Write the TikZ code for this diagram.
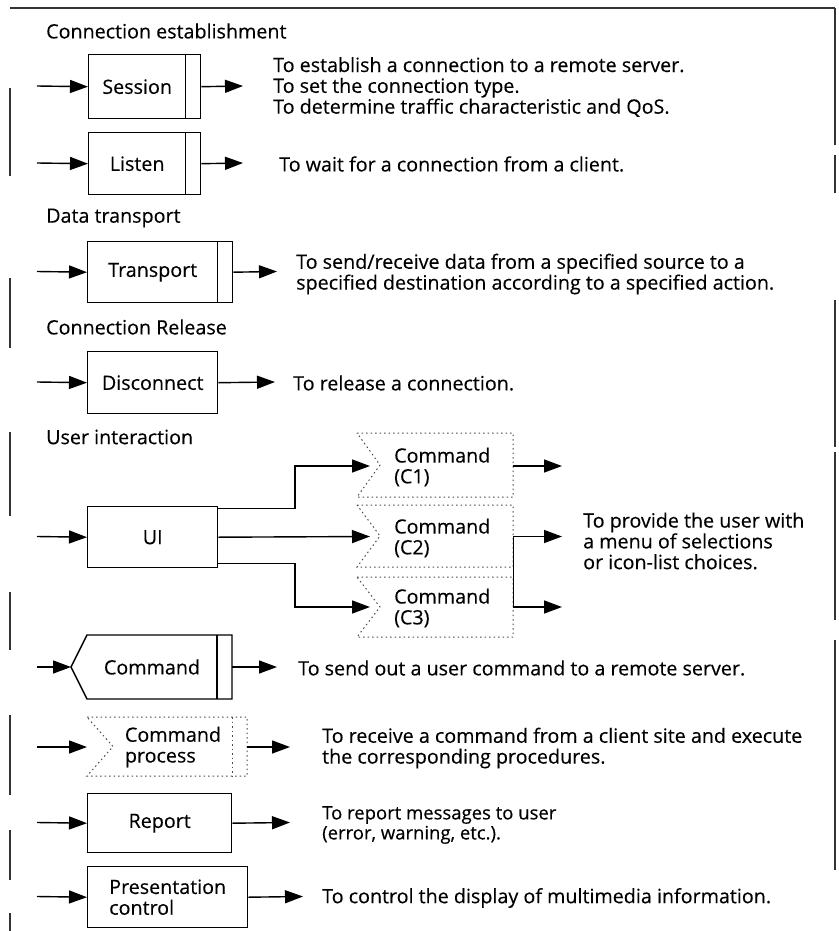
\documentclass[tikz,border=0pt]{standalone}
\usepackage{fontspec}
\setmainfont{Open Sans}[FakeBold=0.3]
\usetikzlibrary{arrows.meta}
\begin{document}
\begin{tikzpicture}[x=1pt,y=-1pt,
  txt/.style={font=\fontsize{19.7}{20.8}\selectfont, inner sep=0pt},
  desc/.style={txt, anchor=west, align=left},
  hdr/.style={txt, anchor=west},
  boxn/.style={draw, line width=1.4pt, inner sep=0pt, anchor=north west, txt},
  arr/.style={line width=1.4pt, -{Triangle[length=18pt,width=13pt]}},
  dotb/.style={line width=1pt, black!70, dash pattern=on 1.5pt off 3pt},
  frame/.style={line width=1.1pt, black!80}
]
\useasboundingbox (0,0) rectangle (838,931);

% frame fragments
\draw[frame] (10,8) -- (835,8);
\foreach \a/\b in {88/176, 278/348, 432/516, 592/650, 715/795, 830/880, 913/931}
  \draw[frame] (10,\a) -- (10,\b);
\foreach \a/\b in {8/145, 155/193, 300/447, 452/620, 640/870}
  \draw[frame] (835,\a) -- (835,\b);

% headers
\node[hdr] (h1) at (46,31) {Connection establishment};
\node[hdr] (h2) at (46,218) {Data transport};
\node[hdr] (h3) at (46,327) {Connection Release};
\node[hdr] (h4) at (46,437) {User interaction};

% Session
\node[boxn, minimum width=97pt, minimum height=64pt] (session) at (88,54) {Session};
\node[boxn, minimum width=15pt, minimum height=64pt] (sessionS) at (185,54) {};
\coordinate (sessionIn) at (37,86);
\coordinate (sessionOut) at (243,86);
\draw[arr] (sessionIn) -- (session.west);
\draw[arr] (sessionS.east) -- (sessionOut);
\node[desc] (sessionD) at (273,87) {To establish a connection to a remote server.\\To set the connection type.\\To determine traffic characteristic and QoS.};

% Listen
\node[boxn, minimum width=97pt, minimum height=62pt] (listen) at (88,132) {Listen};
\node[boxn, minimum width=15pt, minimum height=62pt] (listenS) at (185,132) {};
\coordinate (listenIn) at (37,163);
\coordinate (listenOut) at (243,163);
\draw[arr] (listenIn) -- (listen.west);
\draw[arr] (listenS.east) -- (listenOut);
\node[desc] (listenD) at (279,164) {To wait for a connection from a client.};

% Transport
\node[boxn, minimum width=130pt, minimum height=61pt] (transport) at (87,241) {Transport};
\node[boxn, minimum width=15pt, minimum height=61pt] (transportS) at (217,241) {};
\coordinate (transportIn) at (37,271.5);
\coordinate (transportOut) at (277,271.5);
\draw[arr] (transportIn) -- (transport.west);
\draw[arr] (transportS.east) -- (transportOut);
\node[desc] (transportD) at (296,274) {To send/receive data from a specified source to a\\specified destination according to a specified action.};

% Disconnect
\node[boxn, minimum width=130pt, minimum height=62pt] (disc) at (87,351) {Disconnect};
\coordinate (discIn) at (37,382);
\coordinate (discOut) at (275,382);
\draw[arr] (discIn) -- (disc.west);
\draw[arr] (disc.east) -- (discOut);
\node[desc] (discD) at (293,383) {To release a connection.};

% UI
\node[boxn, minimum width=130pt, minimum height=61pt] (ui) at (87,506) {UI};
\coordinate (uiIn) at (37,536.5);
\draw[arr] (uiIn) -- (ui.west);

% Command C1..C3 (dotted chevrons)
\draw[dotb] (357,433) -- (513,433) -- (513,497) -- (357,497) -- (380,465) -- cycle;
\draw[dotb] (357,505) -- (513,505) -- (513,567) -- (357,567) -- (380,536) -- cycle;
\draw[dotb] (357,577) -- (513,577) -- (513,637) -- (357,637) -- (380,607) -- cycle;
\node[desc] (c1) at (394,467) {Command\\(C1)};
\node[desc] (c2) at (394,538) {Command\\(C2)};
\node[desc] (c3) at (394,608) {Command\\(C3)};
\coordinate (c1In) at (370,466);
\coordinate (c2In) at (370,536.5);
\coordinate (c3In) at (370,607);
\draw[arr] ([yshift=-2.5pt]ui.north east) -| (295,466) -- (c1In);
\draw[arr] (ui.east) -- (c2In);
\draw[arr] ([yshift=5pt]ui.south east) -| (295,607) -- (c3In);
\coordinate (c1R) at (513,466);
\coordinate (c2R) at (513,536.5);
\coordinate (c3R) at (513,607);
\coordinate (c1Out) at (562,466);
\coordinate (c2Out) at (562,536.5);
\coordinate (c3Out) at (562,607);
\draw[arr] (c1R) -- (c1Out);
\draw[line width=1pt] (c2R) -- (c3R);
\draw[arr] (c2R) -- (c2Out);
\draw[arr] (c3R) -- (c3Out);
\node[desc] (uiD) at (583,541) {To provide the user with\\a menu of selections\\or icon-list choices.};

% Command (send)
\coordinate (cmdTip) at (71,667);
\draw[line width=1.4pt] (cmdTip) -- (87,635) -- (232,635) -- (232,699) -- (87,699) -- cycle;
\draw[line width=1.4pt] (217,635) -- (217,699);
\node[txt] (cmd) at (152,667) {Command};
\coordinate (cmdIn) at (37,667);
\coordinate (cmdR) at (232,667);
\coordinate (cmdOut) at (277,667);
\draw[arr] (cmdIn) -- (cmdTip);
\draw[arr] (cmdR) -- (cmdOut);
\node[desc] (cmdD) at (298,668) {To send out a user command to a remote server.};

% Command process
\draw[dotb] (87,717) -- (247,717) -- (247,776) -- (87,776) -- (113,746.5) -- cycle;
\draw[dotb] (232,717) -- (232,776);
\node[txt, align=left] (cmdp) at (173,747) {Command\\process};
\coordinate (cmdpIn) at (37,747);
\coordinate (cmdpL) at (87,747);
\coordinate (cmdpR) at (247,747);
\coordinate (cmdpOut) at (290,747);
\draw[arr] (cmdpIn) -- (cmdpL);
\draw[arr] (cmdpR) -- (cmdpOut);
\node[desc] (cmdpD) at (322,748) {To receive a command from a client site and execute\\the corresponding procedures.};

% Report
\node[boxn, minimum width=144pt, minimum height=59pt] (report) at (87,793) {Report};
\coordinate (reportIn) at (37,822.5);
\coordinate (reportOut) at (290,822.5);
\draw[arr] (reportIn) -- (report.west);
\draw[arr] (report.east) -- (reportOut);
\node[desc, font=\fontsize{18.5}{20}\selectfont] (reportD) at (322,825) {To report messages to user\\(error, warning, etc.).};

% Presentation control
\node[boxn, minimum width=160pt, minimum height=61pt, align=left] (pres) at (87,866) {Presentation\\control};
\coordinate (presIn) at (37,896.5);
\coordinate (presOut) at (303,896.5);
\draw[arr] (presIn) -- (pres.west);
\draw[arr] (pres.east) -- (presOut);
\node[desc] (presD) at (322,898) {To control the display of multimedia information.};

\end{tikzpicture}
\end{document}
